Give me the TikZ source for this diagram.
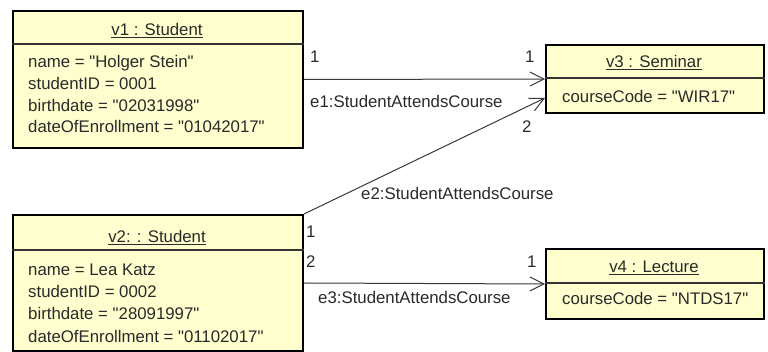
\documentclass[tikz,border=0pt]{standalone}
\usepackage{fontspec}
\newfontfamily\umlfont{Liberation Sans}
\usetikzlibrary{arrows.meta}
\definecolor{objfill}{HTML}{FEFECE}
\definecolor{ink}{HTML}{2A2A2A}
\definecolor{wire}{HTML}{383838}
\begin{document}
\begin{tikzpicture}[x=1pt,y=-1pt,
  objbox/.style={draw=black, line width=2pt, fill=objfill, anchor=north west, inner sep=0pt},
  divider/.style={draw=black!80, line width=1.2pt},
  txt/.style={inner sep=0pt, text=ink, font=\umlfont\fontsize{16.8}{20}\selectfont},
  ttl/.style={txt, anchor=base},
  attr/.style={txt, anchor=base west},
  lbl/.style={txt, anchor=base west},
  assoc/.style={draw=wire, line width=1pt, -{Straight Barb[length=14pt,width=14pt,line width=1pt]}}
]
\useasboundingbox (0,0) rectangle (768,352);

% objects
\node[objbox, minimum width=290pt, minimum height=137pt] (v1) at (12,10) {};
\node[objbox, minimum width=290pt, minimum height=136pt] (v2) at (12,214) {};
\node[objbox, minimum width=218pt, minimum height=68pt] (v3) at (545,44) {};
\node[objbox, minimum width=218pt, minimum height=70pt] (v4) at (545,248) {};

\draw[divider] (v1.west |- 0,44) -- (v1.east |- 0,44);
\draw[divider] (v2.west |- 0,250) -- (v2.east |- 0,250);
\draw[divider] (v3.west |- 0,78) -- (v3.east |- 0,78);
\draw[divider] (v4.west |- 0,283) -- (v4.east |- 0,283);

% v1
\node[ttl] (v1t) at (157,35.5) {\underline{v1 : Student}};
\node[attr] (v1a) at (28,68) {name = "Holger Stein"};
\node[attr] (v1b) at (28,90) {studentID = 0001};
\node[attr] (v1c) at (28,112) {birthdate = "02031998"};
\node[attr] (v1d) at (28,133) {dateOfEnrollment = "01042017"};

% v2
\node[ttl] (v2t) at (157,243) {\underline{v2: : Student}};
\node[attr] (v2a) at (28,276) {name = Lea Katz};
\node[attr] (v2b) at (28,298) {studentID = 0002};
\node[attr] (v2c) at (28,320) {birthdate = "28091997"};
\node[attr] (v2d) at (28,342) {dateOfEnrollment = "01102017"};

% v3
\node[ttl] (v3t) at (654,68) {\underline{v3 : Seminar}};
\node[attr] (v3a) at (562,103) {courseCode = "WIR17"};

% v4
\node[ttl] (v4t) at (654,273) {\underline{v4 : Lecture}};
\node[attr] (v4a) at (562,305) {courseCode = "NTDS17"};

% connectors
\draw[assoc] (v1.east) -- (v3.west);
\draw[assoc] (v2.north east) -- ([yshift=-19pt]v3.west);
\draw[assoc] (v2.east) -- (v4.west);

% labels
\node[lbl] (m1) at (310,63) {1};
\node[lbl] (m2) at (525,63) {1};
\node[lbl] (e1) at (310,108) {e1:StudentAttendsCourse};
\node[lbl] (m3) at (522,133) {2};
\node[lbl] (e2) at (361,200) {e2:StudentAttendsCourse};
\node[lbl] (m4) at (306,238) {1};
\node[lbl] (m5) at (306,268) {2};
\node[lbl] (m6) at (527,268) {1};
\node[lbl] (e3) at (318,304) {e3:StudentAttendsCourse};
\end{tikzpicture}
\end{document}
